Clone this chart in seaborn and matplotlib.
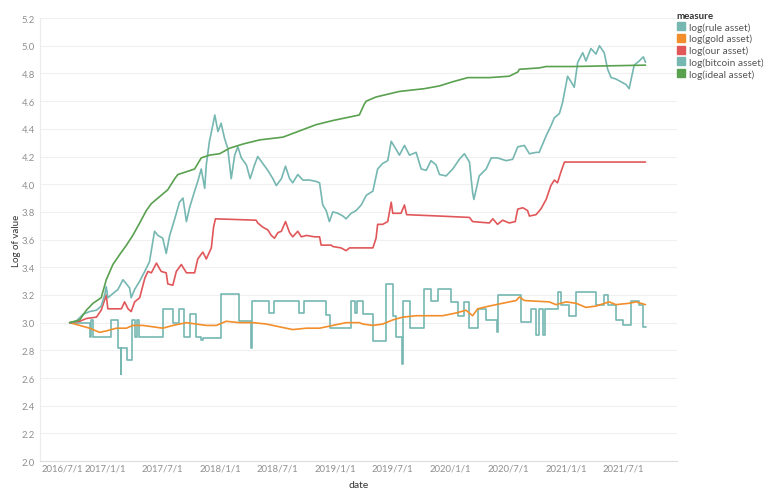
import pandas as pd
import seaborn as sns
import matplotlib.pyplot as plt
from matplotlib.lines import Line2D
from matplotlib.transforms import ScaledTranslation

# days since 2016-09-11 and log values
start = pd.Timestamp('2016-09-11')

ideal_days = [0, 32, 53, 74, 100, 116, 137, 158, 180, 200, 222, 243, 259, 285, 311, 333, 343, 370,
              396, 417, 443, 475, 507, 549, 602, 676, 781, 834, 918, 934, 940, 971, 1045, 1124, 1172,
              1214, 1262, 1330, 1393, 1420, 1425, 1488, 1510, 1594, 1825]
ideal_vals = [3.00, 3.02, 3.09, 3.14, 3.18, 3.31, 3.42, 3.49, 3.56, 3.63, 3.72, 3.81, 3.86, 3.91, 3.96,
              4.04, 4.07, 4.09, 4.11, 4.19, 4.21, 4.22, 4.26, 4.29, 4.32, 4.34, 4.43, 4.46, 4.50, 4.58,
              4.60, 4.63, 4.67, 4.69, 4.71, 4.74, 4.77, 4.77, 4.78, 4.81, 4.83, 4.84, 4.85, 4.85, 4.86]

bitcoin_days = [0, 21, 42, 63, 85, 100, 111, 116, 121, 137, 153, 169, 180, 190, 195, 206, 222, 238,
                253, 269, 280, 295, 306, 317, 333, 348, 359, 370, 380, 396, 406, 417, 428, 433, 443,
                454, 460, 470, 480, 491, 501, 512, 523, 533, 544, 560, 572, 586, 596, 612, 628, 644,
                655, 671, 684, 697, 707, 723, 739, 760, 781, 792, 802, 813, 823, 834, 850, 866, 876,
                892, 908, 924, 940, 961, 976, 992, 1008, 1019, 1035, 1045, 1061, 1077, 1098, 1114,
                1130, 1145, 1161, 1172, 1193, 1214, 1235, 1251, 1267, 1277, 1281, 1298, 1320, 1336,
                1356, 1383, 1404, 1420, 1441, 1457, 1478, 1488, 1510, 1525, 1536, 1552, 1562, 1578,
                1589, 1599, 1610, 1626, 1636, 1652, 1668, 1679, 1694, 1705, 1716, 1731, 1747, 1763,
                1773, 1789, 1805, 1818, 1825]
bitcoin_vals = [3.00, 3.01, 3.06, 3.08, 3.09, 3.12, 3.20, 3.26, 3.18, 3.21, 3.24, 3.31, 3.28, 3.25,
                3.18, 3.24, 3.30, 3.37, 3.44, 3.66, 3.63, 3.61, 3.50, 3.63, 3.75, 3.87, 3.90, 3.73,
                3.83, 3.95, 4.02, 4.11, 3.97, 4.14, 4.31, 4.43, 4.50, 4.38, 4.44, 4.33, 4.26, 4.04,
                4.21, 4.27, 4.19, 4.14, 4.04, 4.14, 4.20, 4.15, 4.10, 4.04, 3.99, 4.04, 4.13, 4.04,
                4.01, 4.07, 4.03, 4.03, 4.02, 4.01, 3.85, 3.81, 3.73, 3.80, 3.79, 3.77, 3.75, 3.79,
                3.81, 3.85, 3.92, 3.95, 4.11, 4.15, 4.17, 4.31, 4.25, 4.21, 4.28, 4.21, 4.23, 4.11,
                4.10, 4.17, 4.14, 4.07, 4.06, 4.11, 4.18, 4.22, 4.16, 3.94, 3.89, 4.06, 4.11, 4.19,
                4.19, 4.17, 4.18, 4.27, 4.28, 4.22, 4.23, 4.23, 4.35, 4.42, 4.48, 4.51, 4.59, 4.78,
                4.74, 4.70, 4.88, 4.95, 4.89, 4.98, 4.94, 5.00, 4.95, 4.83, 4.77, 4.76, 4.74, 4.72,
                4.69, 4.86, 4.89, 4.92, 4.88]

our_days = [0, 32, 53, 85, 100, 116, 121, 164, 174, 185, 195, 206, 222, 238, 248, 259, 275, 290, 306,
            311, 327, 338, 354, 370, 396, 406, 422, 433, 449, 456, 462, 591, 596, 612, 628, 639, 649,
            660, 671, 684, 697, 707, 723, 734, 750, 776, 792, 797, 829, 834, 860, 876, 887, 961, 971,
            976, 992, 1008, 1019, 1024, 1050, 1061, 1068, 1172, 1267, 1277, 1330, 1341, 1356, 1372,
            1393, 1412, 1420, 1436, 1451, 1457, 1478, 1493, 1510, 1525, 1536, 1546, 1557, 1568, 1825]
our_vals = [3.00, 3.01, 3.03, 3.04, 3.09, 3.20, 3.10, 3.10, 3.15, 3.10, 3.08, 3.15, 3.18, 3.32, 3.37,
            3.36, 3.43, 3.37, 3.36, 3.28, 3.27, 3.37, 3.42, 3.36, 3.36, 3.46, 3.51, 3.46, 3.54, 3.69,
            3.75, 3.74, 3.72, 3.69, 3.67, 3.63, 3.61, 3.65, 3.66, 3.73, 3.65, 3.62, 3.66, 3.62, 3.63,
            3.62, 3.62, 3.56, 3.56, 3.55, 3.54, 3.52, 3.54, 3.54, 3.61, 3.71, 3.71, 3.73, 3.87, 3.79,
            3.79, 3.85, 3.78, 3.77, 3.76, 3.73, 3.72, 3.75, 3.71, 3.74, 3.72, 3.73, 3.82, 3.83, 3.81,
            3.77, 3.78, 3.82, 3.89, 3.99, 4.03, 4.01, 4.09, 4.16, 4.16]

gold_days = [0, 32, 63, 95, 116, 148, 180, 200, 232, 264, 295, 327, 370, 401, 433, 465, 496, 538, 581,
             623, 665, 707, 750, 792, 834, 876, 918, 929, 961, 992, 1024, 1056, 1098, 1140, 1182, 1225,
             1256, 1277, 1293, 1330, 1372, 1415, 1425, 1441, 1478, 1520, 1541, 1573, 1605, 1636, 1668,
             1710, 1731, 1773, 1795, 1825]
gold_vals = [3.00, 2.98, 2.96, 2.93, 2.94, 2.96, 2.96, 2.98, 2.98, 2.97, 2.96, 2.98, 3.00, 2.99, 2.98,
             2.98, 3.01, 3.00, 3.00, 2.99, 2.97, 2.95, 2.96, 2.96, 2.98, 3.00, 3.00, 2.99, 2.98, 2.99,
             3.02, 3.04, 3.05, 3.05, 3.05, 3.07, 3.09, 3.05, 3.10, 3.12, 3.14, 3.16, 3.185, 3.16,
             3.155, 3.15, 3.13, 3.15, 3.14, 3.11, 3.12, 3.15, 3.13, 3.14, 3.15, 3.13]

# rule asset only changes at these days (step line)
rule_days = [0, 63, 69, 74, 130, 153, 162, 164, 181, 198, 206, 213, 219, 295, 327, 348, 361, 380, 401,
             417, 422, 480, 538, 575, 579, 633, 648, 728, 744, 813, 826, 892, 905, 912, 929, 961, 1003,
             1024, 1035, 1052, 1056, 1077, 1124, 1145, 1166, 1193, 1209, 1230, 1251, 1267, 1293, 1320,
             1353, 1356, 1430, 1462, 1478, 1488, 1500, 1505, 1546, 1557, 1583, 1605, 1668, 1694, 1705,
             1731, 1752, 1779, 1805, 1816, 1825]
rule_vals = [3.00, 2.90, 3.02, 2.90, 3.02, 2.82, 2.63, 2.82, 2.73, 3.02, 2.90, 3.02, 2.90, 3.10, 3.00,
             3.10, 2.90, 3.06, 2.90, 2.875, 2.89, 3.21, 3.01, 2.82, 3.16, 3.07, 3.16, 3.07, 3.16, 3.055,
             2.96, 3.16, 3.07, 3.16, 3.065, 2.87, 3.28, 3.05, 2.90, 2.70, 3.16, 2.96, 3.245, 3.16,
             3.24, 3.24, 3.15, 3.05, 3.15, 2.96, 3.10, 3.02, 2.93, 3.20, 3.005, 3.10, 2.91, 3.10,
             2.91, 3.10, 3.22, 3.125, 3.05, 3.22, 3.125, 3.20, 3.125, 3.02, 2.985, 3.16, 3.125, 2.97,
             2.97]

names = ['log(rule asset)', 'log(gold asset)', 'log(our asset)', 'log(bitcoin asset)', 'log(ideal asset)']
colors = ['#76b7b2', '#f28e2b', '#e15759', '#76b7b2', '#59a14f']
tick_dates = pd.date_range('2016-07-01', '2021-07-01', freq='6MS')


def frame(days, vals):
    return pd.DataFrame({'date': start + pd.to_timedelta(days, unit='D'), 'value': vals})


sns.set_style('white')
plt.rcParams['font.family'] = ['Lato', 'DejaVu Sans']

fig = plt.figure(figsize=(7.63, 4.89), dpi=100)
ax = fig.add_axes([0.052, 0.055, 0.835, 0.906])

series = [(rule_days, rule_vals), (gold_days, gold_vals), (our_days, our_vals),
          (bitcoin_days, bitcoin_vals), (ideal_days, ideal_vals)]
for (d, v), name, c in zip(series, names, colors):
    kw = {'drawstyle': 'steps-post'} if name == 'log(rule asset)' else {}
    sns.lineplot(data=frame(d, v), x='date', y='value', color=c, lw=1.2, ax=ax, legend=False, **kw)

ax.set_xlim(pd.Timestamp('2016-06-08'), pd.Timestamp('2021-12-18'))
ax.set_ylim(2.0, 5.2)
ax.set_yticks([round(2.0 + 0.2 * i, 1) for i in range(17)])
ax.set_yticklabels([f'{2.0 + 0.2 * i:.1f}' for i in range(17)])
ax.set_xticks(tick_dates)
ax.set_xticklabels([f'{t.year}/{t.month}/{t.day}' for t in tick_dates])

ax.yaxis.grid(True, color='#f0f0f0', lw=0.8)
ax.xaxis.grid(False)
ax.tick_params(length=0, labelsize=6.8, labelcolor='#8f8f8f')
ax.tick_params(axis='y', pad=3.5)
ax.tick_params(axis='x', pad=2)

# first date label sits inside the axis like the reference
first = ax.get_xticklabels()[0]
first.set_horizontalalignment('left')
first.set_transform(first.get_transform() + ScaledTranslation(-0.05, 0, fig.dpi_scale_trans))

for s in ['top', 'right']:
    ax.spines[s].set_visible(False)
ax.spines['left'].set_color('#ececec')
ax.spines['bottom'].set_color('#dcdcdc')
ax.spines['left'].set_linewidth(0.8)
ax.spines['bottom'].set_linewidth(0.8)

ax.set_ylabel('Log of value', fontsize=7, color='#333333', labelpad=0)
ax.set_xlabel('date', fontsize=7.5, color='#333333', labelpad=5)

handles = [Line2D([0], [0], marker='s', linestyle='', markersize=6, markerfacecolor=c,
                  markeredgecolor=c) for c in colors]
leg = fig.legend(handles, names, loc='upper left', bbox_to_anchor=(0.887, 0.976), frameon=False,
                 title='measure', fontsize=7.3, title_fontsize=7, handlelength=0.8,
                 handletextpad=0.4, labelspacing=0.22, borderpad=0, borderaxespad=0,
                 alignment='left', labelcolor='#555555')
leg.get_title().set_fontweight('bold')
leg.get_title().set_color('#333333')

fig.savefig('out.png', dpi=100)
